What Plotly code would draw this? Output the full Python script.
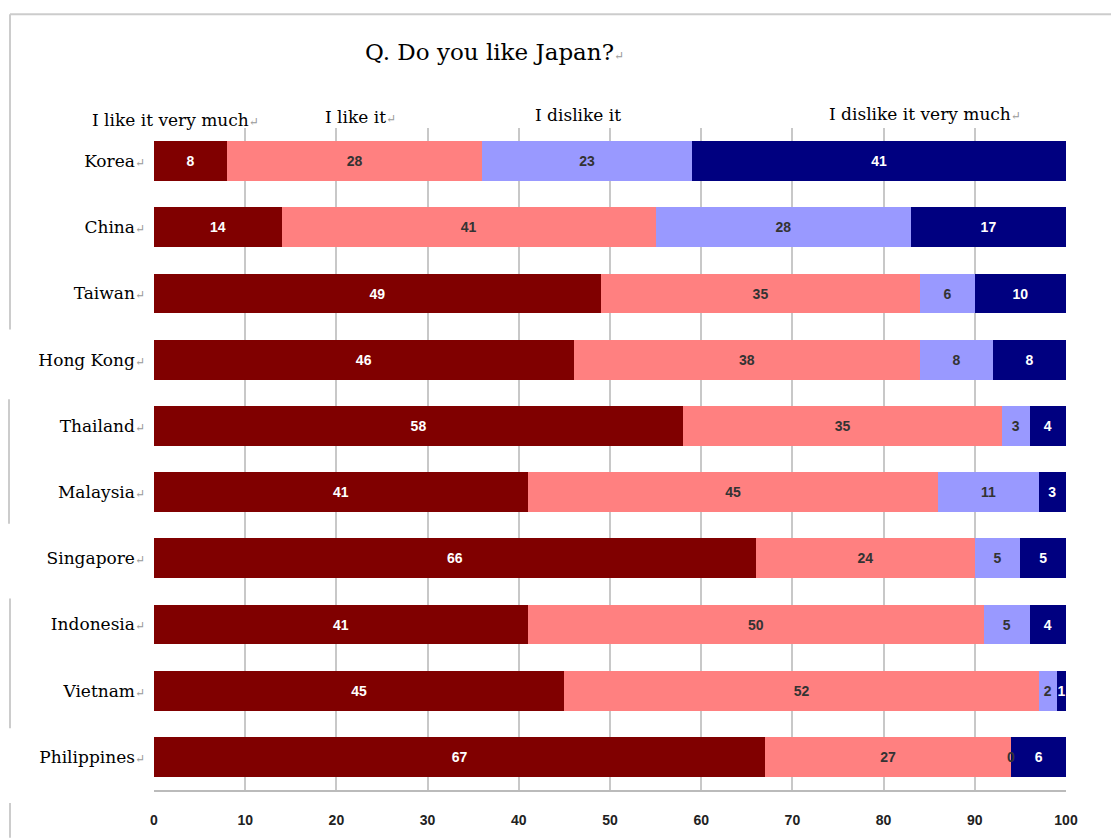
import plotly.graph_objects as go

countries = ["Korea", "China", "Taiwan", "Hong Kong", "Thailand", "Malaysia",
             "Singapore", "Indonesia", "Vietnam", "Philippines"]
like_very_much = [8, 14, 49, 46, 58, 41, 66, 41, 45, 67]
like_it = [28, 41, 35, 38, 35, 45, 24, 50, 52, 27]
dislike_it = [23, 28, 6, 8, 3, 11, 5, 5, 2, 0]
dislike_very_much = [41, 17, 10, 8, 4, 3, 5, 4, 1, 6]
series_names = ["I like it very much", "I like it", "I dislike it", "I dislike it very much"]
x_ticks = [0, 10, 20, 30, 40, 50, 60, 70, 80, 90, 100]

colors = ["#800000", "#FF8080", "#9999FF", "#000080"]
text_colors = ["white", "#333333", "#333333", "white"]
series = [like_very_much, like_it, dislike_it, dislike_very_much]

RET = "<span style='color:#999999;font-size:12px'>↵</span>"
SERIF = "DejaVu Serif"
LBL = dict(family="Liberation Sans", size=14, weight="bold")

fig = go.Figure()
for name, vals, c, tc in zip(series_names, series, colors, text_colors):
    fig.add_trace(go.Bar(
        y=countries, x=vals, name=name, orientation="h",
        marker=dict(color=c, line=dict(width=0)),
        text=[str(v) for v in vals], textposition="inside",
        insidetextanchor="middle", textangle=0,
        textfont=dict(**LBL, color=tc),
        constraintext="none", cliponaxis=False,
        showlegend=False,
    ))

# zero-value labels (not drawn by zero-width bars)
for i, c in enumerate(countries):
    cum = 0
    for k, vals in enumerate(series):
        if vals[i] == 0:
            fig.add_annotation(x=cum, y=c, text="0", showarrow=False,
                               font=dict(**LBL, color="#333333"),
                               xanchor="center", yanchor="middle")
        cum += vals[i]

def py(p):  # pixel y -> paper y
    return (792 - p) / 664

def px(p):  # pixel x -> paper x
    return (p - 154) / 912

frame = dict(color="#cccccc", width=2)
fig.update_layout(
    width=1111, height=840,
    barmode="stack", bargap=0.4,
    plot_bgcolor="white", paper_bgcolor="white",
    margin=dict(l=154, r=45, t=128, b=48),
    uniformtext=dict(minsize=14, mode="show"),
    xaxis=dict(range=[0, 100], tickvals=x_ticks, showgrid=True, gridcolor="#c8c8c8", gridwidth=1.5,
               showline=True, linecolor="#bbbbbb", linewidth=2, zeroline=False,
               tickfont=dict(family="Liberation Sans Narrow, Liberation Sans", size=14, color="#222222", weight="bold"),
               ticklabelstandoff=16, fixedrange=True),
    yaxis=dict(categoryorder="array", categoryarray=countries, autorange="reversed",
               tickvals=countries, ticktext=[c + RET for c in countries],
               tickfont=dict(family=SERIF, size=17, color="black"),
               showgrid=False, showline=False, ticklabelstandoff=8),
    shapes=[
        dict(type="line", xref="paper", yref="paper", x0=px(10), x1=px(1111), y0=py(14), y1=py(14), line=frame),
        dict(type="line", xref="paper", yref="paper", x0=px(10), x1=px(10), y0=py(14), y1=py(330), line=frame),
        dict(type="line", xref="paper", yref="paper", x0=px(9), x1=px(9), y0=py(400), y1=py(525), line=frame),
        dict(type="line", xref="paper", yref="paper", x0=px(10), x1=px(10), y0=py(600), y1=py(730), line=frame),
        dict(type="line", xref="paper", yref="paper", x0=px(10), x1=px(10), y0=py(805), y1=py(840), line=frame),
    ],
)

fig.add_annotation(text="Q. Do you like Japan?" + RET, xref="paper", yref="paper",
                   x=px(494), y=py(52), showarrow=False, xanchor="center", yanchor="middle",
                   font=dict(family=SERIF, size=23, color="black"))
header_pos = [(175, 120), (360, 117), (578, 115), (925, 114)]
header_text = ["I like it very much" + RET, "I like it" + RET, "I dislike it", "I dislike it very much" + RET]
for (hx, hy), t in zip(header_pos, header_text):
    fig.add_annotation(text=t, xref="paper", yref="paper",
                       x=px(hx), y=py(hy), showarrow=False, xanchor="center", yanchor="middle",
                       font=dict(family=SERIF, size=17, color="black"))

fig.write_html("out.html")
